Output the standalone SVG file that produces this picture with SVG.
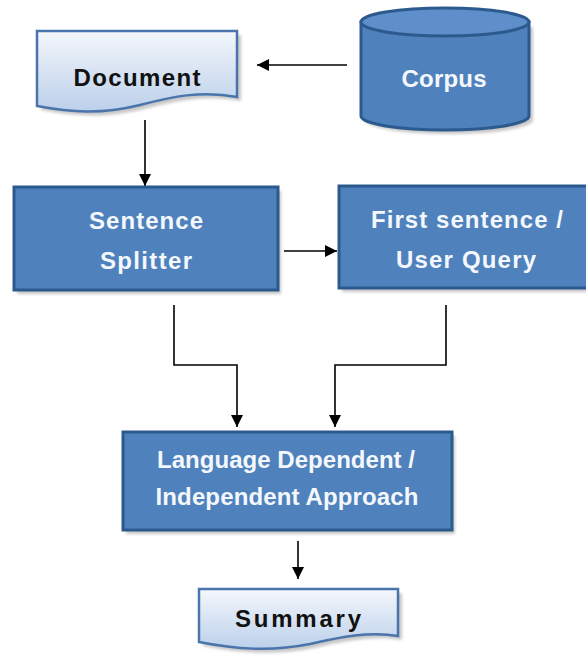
<svg xmlns="http://www.w3.org/2000/svg" width="586" height="659" viewBox="0 0 586 659">
  <style>
    .box { fill: #4F81BD; stroke: #2D5A8E; stroke-width: 3; }
    .doc { fill: url(#docFill); stroke: #4A74AC; stroke-width: 2.5; }
    .wire { fill: none; stroke: #000; stroke-width: 1.6; }
    .shade { fill: #9A9A9A; opacity: 0.55; filter: url(#soft); }
    .lbl { font-family: "Liberation Sans", Arial, sans-serif; font-weight: bold; font-size: 24px; text-anchor: middle; }
    .light { fill: #F4F8FC; }
    .dark { fill: #111; }
  </style>
  <defs>
    <linearGradient id="docFill" x1="0" y1="0" x2="0" y2="1">
      <stop offset="0" stop-color="#F4F7FC"/>
      <stop offset="1" stop-color="#BCD0EA"/>
    </linearGradient>
    <filter id="soft" x="-10%" y="-10%" width="120%" height="130%">
      <feGaussianBlur stdDeviation="1.5"/>
    </filter>
    <marker id="tip" viewBox="0 0 12 12" refX="12" refY="6" markerWidth="12" markerHeight="12" markerUnits="userSpaceOnUse" orient="auto">
      <path d="M0,0 L12,6 L0,12 Z" fill="#000"/>
    </marker>
  </defs>

  <rect width="586" height="659" fill="#FFFFFF"/>

  <!-- connectors -->
  <g id="connectors">
    <path class="wire" d="M347,65 H257" marker-end="url(#tip)"/>
    <path class="wire" d="M145,120 V186" marker-end="url(#tip)"/>
    <path class="wire" d="M284,251 H337" marker-end="url(#tip)"/>
    <path class="wire" d="M174,305 V365 H237 V427" marker-end="url(#tip)"/>
    <path class="wire" d="M446,305 V365 H335 V427" marker-end="url(#tip)"/>
    <path class="wire" d="M298,541 V579" marker-end="url(#tip)"/>
  </g>

  <!-- Document -->
  <g id="document">
    <path class="shade" d="M41,35 H241 V101 C205,94 175,101 144,109 C104,119 74,116 41,110 Z"/>
    <path class="doc" d="M37,31 H237 V97 C201,90 171,97 140,105 C100,115 70,112 37,106 Z"/>
    <text class="lbl dark" x="137" y="86" font-size="24" textLength="127" lengthAdjust="spacing">Document</text>
  </g>

  <!-- Corpus -->
  <g id="corpus">
    <path class="shade" d="M365,27 V120 A84,14 0 0 0 533,120 V27 Z"/>
    <path class="box" d="M361,22 V116 A84,14 0 0 0 529,116 V22 Z"/>
    <ellipse cx="445" cy="22" rx="84" ry="14" fill="#5E8FCB" stroke="#2D5A8E" stroke-width="3"/>
    <text class="lbl light" x="444" y="87" textLength="85" lengthAdjust="spacing">Corpus</text>
  </g>

  <!-- Sentence Splitter -->
  <g id="splitter">
    <rect class="shade" x="17" y="191" width="264" height="103"/>
    <rect class="box" x="14" y="187" width="264" height="103"/>
    <text class="lbl light" x="146" y="229" textLength="114" lengthAdjust="spacing">Sentence</text>
    <text class="lbl light" x="146" y="269" textLength="92" lengthAdjust="spacing">Splitter</text>
  </g>

  <!-- First sentence / User Query -->
  <g id="query">
    <rect class="shade" x="342" y="190" width="254" height="102"/>
    <rect class="box" x="339" y="186" width="254" height="102"/>
    <text class="lbl light" x="467" y="228" textLength="192" lengthAdjust="spacing">First sentence /</text>
    <text class="lbl light" x="466" y="268" textLength="140" lengthAdjust="spacing">User Query</text>
  </g>

  <!-- Language Dependent / Independent Approach -->
  <g id="approach">
    <rect class="shade" x="126" y="436" width="329" height="98"/>
    <rect class="box" x="123" y="432" width="329" height="98"/>
    <text class="lbl light" x="286" y="468" textLength="258" lengthAdjust="spacing">Language Dependent /</text>
    <text class="lbl light" x="287" y="505" textLength="263" lengthAdjust="spacing">Independent Approach</text>
  </g>

  <!-- Summary -->
  <g id="summary">
    <path class="shade" d="M203,593 H402 V640 C374,635 344,641 314,648 C274,656 239,653 203,646 Z"/>
    <path class="doc" d="M199,589 H398 V636 C370,631 340,637 310,644 C270,652 235,649 199,642 Z"/>
    <text class="lbl dark" x="298" y="627" font-size="22" textLength="126" lengthAdjust="spacing">Summary</text>
  </g>
</svg>
